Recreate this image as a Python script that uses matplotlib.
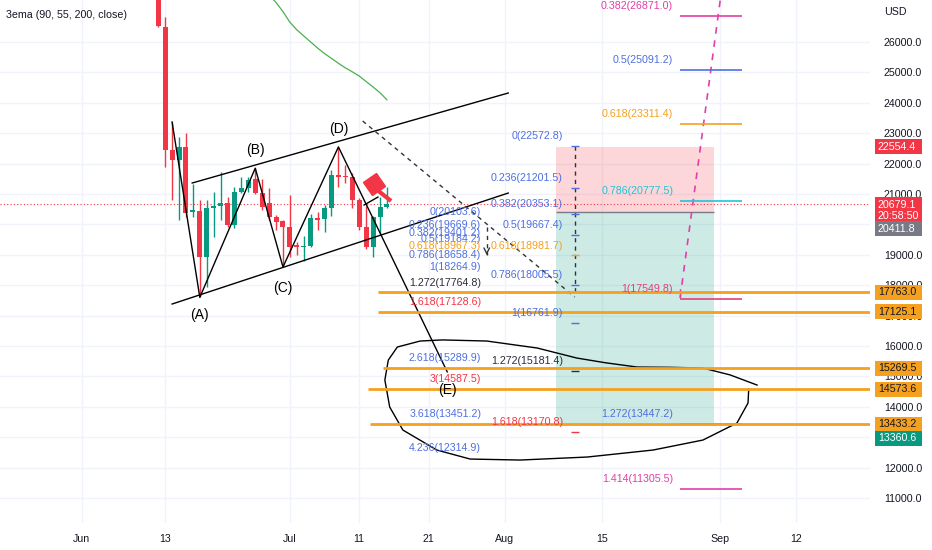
import numpy as np
import matplotlib.pyplot as plt
from matplotlib import font_manager
from matplotlib.markers import MarkerStyle
from matplotlib.patches import Rectangle

# narrow face if the machine has one, else Arial-like
_names = {f.name for f in font_manager.fontManager.ttflist}
FS = 7.7
if 'Liberation Sans Narrow' in _names:
    plt.rcParams['font.family'] = ['Liberation Sans Narrow', 'DejaVu Sans']
    FS = 8.3
else:
    plt.rcParams['font.family'] = ['Liberation Sans', 'DejaVu Sans']

# daily candles, x = days since 1 Jun 2022
days = np.arange(11, 45)
opens = [28000, 26500, 22450, 22120, 22550, 20400, 20430, 18930, 20540, 20600, 20720, 19980,
         21080, 21200, 21500, 21030, 20700, 20240, 20100, 19910, 19320, 19260, 19290, 20210,
         20180, 20540, 21630, 21600, 21560, 20800, 19900, 19270, 20240, 20570]
highs = [28500, 26820, 23370, 22875, 23000, 21330, 20800, 20800, 21070, 21720, 20900, 21230,
         21550, 21560, 21870, 21500, 21200, 20310, 20150, 20970, 19420, 19620, 20350, 20410,
         20640, 21790, 22550, 21950, 21700, 20870, 20600, 20280, 20900, 21230]
lows = [26500, 21900, 20800, 20150, 20250, 20250, 17610, 17940, 19590, 20140, 19920, 19880,
        21030, 21060, 20990, 20480, 20140, 19820, 18600, 18930, 18990, 18800, 19260, 19820,
        19750, 20270, 21230, 21350, 20540, 19820, 19180, 18930, 19700, 20540]
closes = [26530, 22450, 22120, 22550, 20375, 20470, 18930, 20540, 20600, 20720, 19980, 21070,
          21200, 21460, 21030, 20570, 20240, 20080, 19910, 19260, 19260, 19300, 20210, 20140,
          20540, 21630, 21570, 21560, 20800, 19910, 19270, 20240, 20570, 20679.1]

ema_days = np.arange(27, 45)
ema_vals = [27550, 27300, 27000, 26650, 26400, 26200, 26000, 25800, 25620, 25460, 25300,
            25150, 25020, 24880, 24700, 24520, 24330, 24100]

x_ticks = [0, 12, 30, 40, 50, 61, 75, 92, 103]
x_labels = ['Jun', '13', 'Jul', '11', '21', 'Aug', '15', 'Sep', '12']
y_ticks = np.arange(11000, 27000, 1000)
y_hidden = [13000, 20000]  # covered by price tags

# fib set near (E)
fa_levels = ['0', '0.236', '0.382', '0.5', '0.618', '0.786', '1', '1.272', '1.618',
             '2.618', '3', '3.618', '4.236']
fa_prices = [20103.6, 19669.6, 19401.2, 19184.2, 18967.3, 18658.4, 18264.9, 17764.8, 17128.6,
             15289.9, 14587.5, 13451.2, 12314.9]
# fib set on the position box
fb_levels = ['0', '0.236', '0.382', '0.5', '0.618', '0.786', '1', '1.272', '1.618']
fb_prices = [22572.8, 21201.5, 20353.1, 19667.4, 18981.7, 18005.5, 16761.9, 15181.4, 13170.8]
# trend based fib on the right
fc_levels = ['0.382', '0.5', '0.618', '0.786', '1', '1.272', '1.414']
fc_prices = [26871.0, 25091.2, 23311.4, 20777.5, 17549.8, 13447.2, 11305.5]

# horizontal levels (orange) and where they start
h_prices = [17763.0, 17125.1, 15269.5, 14573.6, 13433.2]
h_starts = [42.7, 42.7, 43.4, 41.3, 41.6]

last_price = 20679.1
entry, stop, target = 20411.8, 22554.4, 13360.6

# ABCDE pivots
wave_x = [13, 17, 25, 29, 37, 52.7]
wave_y = [23370, 17600, 21850, 18600, 22550, 15150]
wave_names = ['', '(A)', '(B)', '(C)', '(D)', '(E)']
wave_off = [0, -13, 13, -15, 13, -13]

# hand drawn loop round (E)
loop_x = [97.4, 93.5, 89.6, 84.8, 80.1, 75.5, 71.4, 65.7, 58.4, 52.0, 48.8, 45.5, 44.2, 43.7,
          44.4, 46.3, 51.2, 56.0, 63.2, 72.9, 82.4, 89.6, 94.5, 96.1, 96.2]
loop_y = [14716, 15050, 15275, 15300, 15308, 15450, 15604, 15933, 16164, 16200, 16164, 15967,
          15539, 14881, 13993, 13236, 12578, 12282, 12249, 12348, 12578, 12907, 13466, 14124,
          14580]

UP, DOWN = '#089981', '#f23645'
BLUE, ORANGE, RED, DARK = '#4f6fe0', '#f5a01e', '#f23645', '#2a2e39'
PINK, MAGENTA, CYAN = '#e0407a', '#e040a8', '#22c3d6'
PX = 32.9  # price units per pixel

fig = plt.figure(figsize=(9.32, 5.5), dpi=100)
ax = fig.add_axes([0, 27 / 550, 870 / 932, 523 / 550])
ax.set_xlim(-11.83, 113.7)
ax.set_ylim(10178, 27382)
for s in ax.spines.values():
    s.set_visible(False)

ax.set_xticks(x_ticks)
ax.set_xticklabels(x_labels)
ax.set_yticks(y_ticks)
ax.set_yticklabels(['' if v in y_hidden else f'{v:.1f}' for v in y_ticks])
ax.yaxis.tick_right()
ax.tick_params(axis='y', length=0, pad=10, labelsize=FS, labelcolor='#131722')
ax.tick_params(axis='x', length=0, pad=8, labelsize=FS, labelcolor='#131722')
ax.grid(color='#f0f3fa', lw=1)
ax.set_axisbelow(True)

# position box
ax.fill_between([68.4, 91.2], entry, stop, color=RED, alpha=0.2, lw=0)
ax.fill_between([68.4, 91.2], target, entry, color=UP, alpha=0.2, lw=0)
ax.hlines(entry, 68.4, 91.2, color='#787b86', lw=1)

# ema
ax.plot(ema_days, ema_vals, color='#4caf50', lw=0.9)

# candles
for d, o, h, l, c in zip(days, opens, highs, lows, closes):
    col = UP if c >= o else DOWN
    ax.vlines(d, l, h, color=col, lw=1, zorder=3)
    ax.bar(d, max(abs(c - o), 40), bottom=min(o, c), width=0.72, color=col, lw=0, zorder=3)

ax.axhline(last_price, color=RED, ls=(0, (1, 2)), lw=0.8, zorder=2)

# channel and wave lines
ax.plot([13.0, 61.5], [17381, 21032], color='black', lw=1, zorder=4)
ax.plot([15.9, 61.5], [21362, 24322], color='black', lw=1, zorder=4)
ax.plot(wave_x, wave_y, color='black', lw=1, zorder=4)
ax.plot([40.7, 42.7], [20637, 20900], color='black', lw=1, zorder=4)
for x, y, n, o in zip(wave_x, wave_y, wave_names, wave_off):
    if n:
        ax.annotate(n, (x, y), xytext=(0, o), textcoords='offset points', ha='center',
                    va='center', fontsize=10, color='black', zorder=6,
                    family=['Liberation Sans', 'DejaVu Sans'])

# projection dashes
ax.plot([40.5, 71.1], [23401, 17611], color='#333', lw=1, ls=(0, (3, 3)), zorder=4)
ax.plot([58.4, 58.4], [19914, 18980], color='#333', lw=1, ls=(0, (3, 3)), zorder=4)
ax.annotate('', xy=(58.4, 18900), xytext=(58.4, 19150),
            arrowprops=dict(arrowstyle='->', color='#333', lw=1))
ax.plot([71.1, 71.1], [fb_prices[0], 17650], color='#333', lw=1, ls=(0, (3, 3)), zorder=4)
ax.plot([86.3, 92.4], [17580, 27900], color=MAGENTA, lw=1.2, ls=(0, (4, 4)), zorder=4)

# red flag icon
ax.plot([42.6, 44.6], [21132, 20770], color=RED, lw=3, solid_capstyle='butt', zorder=5)
ax.plot(42.1, 21330, marker=MarkerStyle('s').rotated(deg=32), ms=11, color=RED, zorder=5)

# loop
ax.plot(loop_x, loop_y, color='black', lw=1, zorder=4)


def fib_labels(levels, prices, colors, xr):
    for lv, p, c in zip(levels, prices, colors):
        ax.annotate(f'{lv}({p:.1f})', (xr, p), xytext=(0, 7), textcoords='offset points',
                    ha='right', va='center', color=c, fontsize=FS, zorder=6)


fa_colors = [BLUE, BLUE, BLUE, BLUE, ORANGE, BLUE, BLUE, DARK, RED, BLUE, RED, BLUE, BLUE]
fb_colors = [BLUE, BLUE, BLUE, BLUE, ORANGE, BLUE, BLUE, DARK, RED]
fc_colors = [MAGENTA, BLUE, ORANGE, CYAN, PINK, BLUE, MAGENTA]
fib_labels(fa_levels, fa_prices, fa_colors, 57.6)
fib_labels(fb_levels, fb_prices, fb_colors, 69.4)
fib_labels(fc_levels, fc_prices, fc_colors, 85.3)
for p, c in zip(fb_prices, fb_colors):
    ax.hlines(p, 70.6, 71.7, color=c, lw=1, zorder=5)
for p, c in zip(fc_prices, fc_colors):
    ax.hlines(p, 86.3, 95.2, color=c, lw=1.2, zorder=5)
ax.plot([86.3, 86.3], [17600, 17900], color=PINK, lw=1, ls=(0, (2, 2)))

# orange levels
for p, s in zip(h_prices, h_starts):
    ax.hlines(p, s, 114, color=ORANGE, lw=2, zorder=5)

ax.text(6 / 870, 1 - 15 / 523, '3ema (90, 55, 200, close)', transform=ax.transAxes,
        fontsize=FS, color='#131722', va='center')
ax.text(1.016, 1 - 12 / 523, 'USD', transform=ax.transAxes, fontsize=FS, color='#131722',
        va='center')

tr = ax.get_yaxis_transform()


def tag(price, text, fc, tc, dy=0, rows=1):
    yc = price - dy * PX
    h = (13 * rows + 2) * PX
    ax.add_patch(Rectangle((875 / 870, yc - h / 2), 47 / 870, h, transform=tr, fc=fc,
                           ec='none', clip_on=False, zorder=10))
    ax.text(878 / 870, yc, text, transform=tr, ha='left', va='center', fontsize=FS,
            color=tc, zorder=11, linespacing=1.15)


tag(stop, f'{stop:.1f}', RED, 'white')
tag(last_price, f'{last_price:.1f}\n20:58:50', RED, 'white', dy=7, rows=2)
tag(entry, f'{entry:.1f}', '#787b86', 'white', dy=17)
for p in h_prices:
    tag(p, f'{p:.1f}', ORANGE, '#131722')
tag(target, f'{target:.1f}', UP, 'white', dy=12)

fig.savefig('out.png', dpi=100)
